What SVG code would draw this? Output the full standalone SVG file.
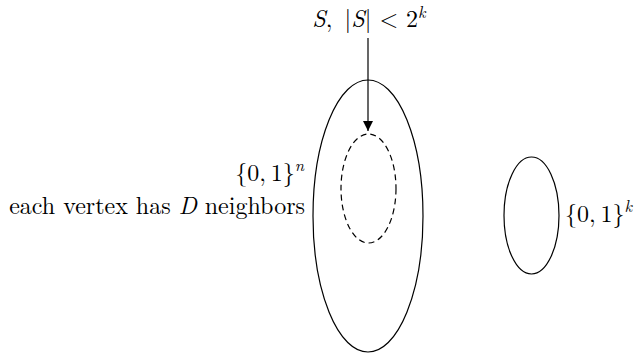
<svg xmlns="http://www.w3.org/2000/svg" width="637" height="353" viewBox="0 0 637 353">
<style>
.t{font-family:"Latin Modern Roman","Liberation Serif",serif;font-size:24px;fill:#000}
.i{font-style:italic}
.s{font-size:16.5px}
.e{fill:none;stroke:#000;stroke-width:1.2}
.d{stroke-dasharray:6,4}
</style>
<defs>
<marker id="ah" viewBox="0 0 10 10" refX="10" refY="5" markerWidth="10" markerHeight="10" markerUnits="userSpaceOnUse" orient="auto">
<path d="M0,0 L10,5 L0,10 z" fill="#000"/>
</marker>
</defs>
<rect width="637" height="353" fill="#fff"/>
<g id="big">
<ellipse class="e" cx="368" cy="216" rx="55" ry="136"/>
<text class="t" x="304" y="181" text-anchor="end">{0,&#8201;1}<tspan class="i s" dy="-10">n</tspan></text>
<text class="t" x="305" y="214" text-anchor="end">each vertex has <tspan class="i">D</tspan> neighbors</text>
</g>
<g id="S">
<ellipse class="e d" cx="368.5" cy="188.5" rx="27.5" ry="54.5"/>
<text class="t" x="369" y="27" text-anchor="middle"><tspan class="i">S</tspan>,&#8194;|<tspan class="i">S</tspan>| &lt; 2<tspan class="i s" dy="-9">k</tspan></text>
</g>
<g id="small">
<ellipse class="e" cx="531.5" cy="215.5" rx="27.5" ry="58.5"/>
<text class="t" x="565" y="222">{0,&#8201;1}<tspan class="i s" dy="-10">k</tspan></text>
</g>
<g id="connectors">
<line x1="368" y1="38" x2="368" y2="131" stroke="#000" stroke-width="1.2" marker-end="url(#ah)"/>
</g>
</svg>
